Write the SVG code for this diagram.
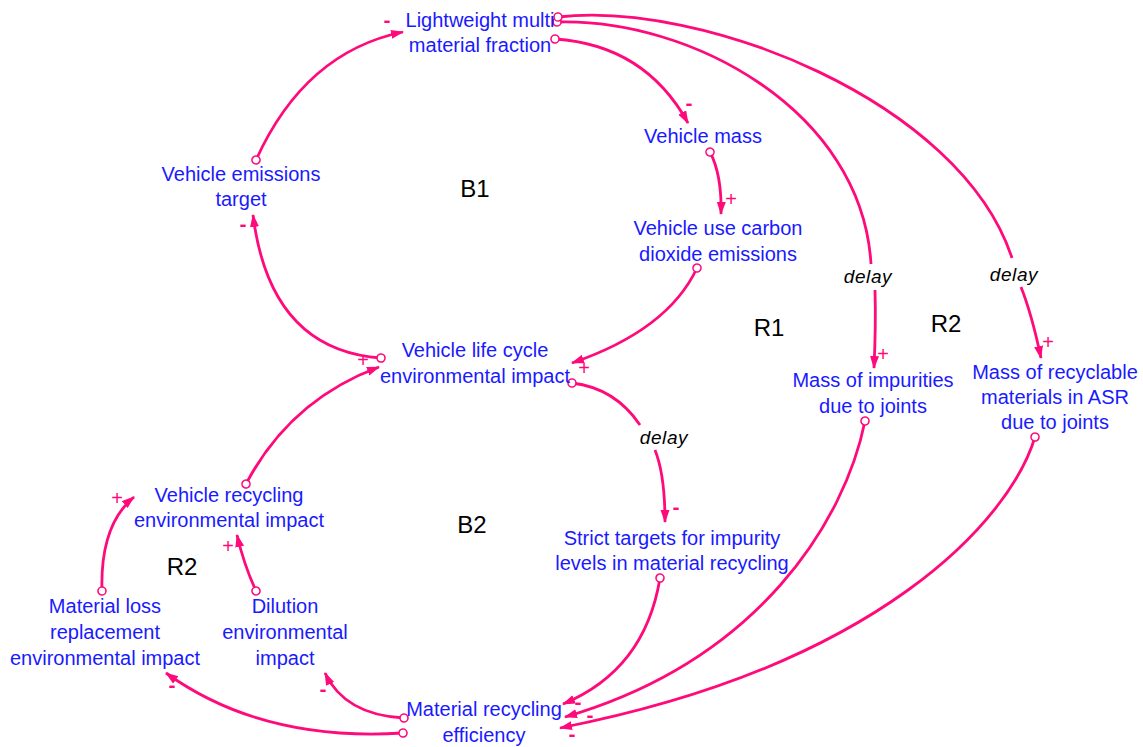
<svg xmlns="http://www.w3.org/2000/svg" width="1143" height="747" viewBox="0 0 1143 747">
  <style>
    .var { font-family: "Liberation Sans", Arial, sans-serif; font-size: 20px; fill: #1a1aff; text-anchor: middle; }
    .loop { font-family: "Liberation Sans", Arial, sans-serif; font-size: 24px; fill: #000; text-anchor: middle; }
    .delay { font-family: "Liberation Sans", Arial, sans-serif; font-size: 19px; font-style: italic; fill: #000; text-anchor: middle; letter-spacing: 0.6px; }
    .sign { font-family: "Liberation Sans", Arial, sans-serif; font-size: 20px; fill: #ff0a7a; text-anchor: middle; }
    .minus { font-weight: bold; font-size: 21px; }
    .link { fill: none; stroke: #ff0a7a; stroke-width: 2.8; }
    .arrow { marker-end: url(#head); }
    .tail { marker-start: url(#dot); }
  </style>
  <defs>
    <marker id="head" markerUnits="userSpaceOnUse" markerWidth="14" markerHeight="10" refX="12" refY="4.5" orient="auto">
      <path d="M0,0 L13,4.5 L0,9 z" fill="#ff0a7a"/>
    </marker>
    <marker id="dot" markerUnits="userSpaceOnUse" markerWidth="12" markerHeight="12" refX="6" refY="6" orient="auto">
      <circle cx="6" cy="6" r="4" fill="#fff" stroke="#ff0a7a" stroke-width="1.6"/>
    </marker>
  </defs>

  <g id="connectors">
    <!-- emissions target -> lightweight fraction -->
    <path class="link tail arrow" d="M256,160 Q305,52 403,32"/>
    <text class="sign minus" x="387" y="27">-</text>
    <!-- lightweight fraction -> vehicle mass -->
    <path class="link tail arrow" d="M555,39 Q645,45 688,123"/>
    <text class="sign minus" x="689" y="110">-</text>
    <!-- vehicle mass -> use-phase CO2 -->
    <path class="link tail arrow" d="M710,152 Q722,175 721,214"/>
    <text class="sign" x="731" y="206">+</text>
    <!-- use-phase CO2 -> life cycle impact -->
    <path class="link tail arrow" d="M697,268 Q668,330 572,363"/>
    <text class="sign" x="584" y="375">+</text>
    <!-- life cycle impact -> emissions target -->
    <path class="link tail arrow" d="M381,358 Q270,350 253,215"/>
    <text class="sign minus" x="243" y="231">-</text>
    <!-- recycling impact -> life cycle impact -->
    <path class="link tail arrow" d="M246,484 Q290,400 379,367"/>
    <text class="sign" x="363" y="367">+</text>
    <!-- life cycle impact -> strict impurity targets (delayed) -->
    <path class="link tail" d="M572,383 Q615,388 640,425"/>
    <path class="link arrow" d="M655,450 Q665,475 665,522"/>
    <text class="delay" x="664" y="444">delay</text>
    <text class="sign minus" x="676" y="514">-</text>
    <!-- lightweight fraction -> impurities mass (delayed) -->
    <path class="link tail" d="M557,22 C690,18 862,110 871,264"/>
    <path class="link arrow" d="M875,290 Q876,325 874,368"/>
    <text class="delay" x="868" y="283">delay</text>
    <text class="sign" x="883" y="361">+</text>
    <!-- lightweight fraction -> recyclables in ASR (delayed) -->
    <path class="link tail" d="M558,17 C700,0 960,100 1012,258"/>
    <path class="link arrow" d="M1021,287 Q1032,315 1041,358"/>
    <text class="delay" x="1014" y="281">delay</text>
    <text class="sign" x="1048" y="349">+</text>
    <!-- strict targets -> recycling efficiency -->
    <path class="link tail arrow" d="M660,578 Q645,670 563,704"/>
    <text class="sign minus" x="578" y="709">-</text>
    <!-- impurities mass -> recycling efficiency -->
    <path class="link tail arrow" d="M865,421 C845,520 760,660 565,717"/>
    <text class="sign minus" x="590" y="722">-</text>
    <!-- recyclables in ASR -> recycling efficiency -->
    <path class="link tail arrow" d="M1035,437 C1010,520 880,665 560,728"/>
    <text class="sign minus" x="572" y="741">-</text>
    <!-- recycling efficiency -> dilution impact -->
    <path class="link tail arrow" d="M404,718 Q345,715 325,673"/>
    <text class="sign minus" x="323" y="696">-</text>
    <!-- recycling efficiency -> material loss replacement -->
    <path class="link tail arrow" d="M403,733 Q262,742 166,673"/>
    <text class="sign minus" x="172" y="692">-</text>
    <!-- dilution impact -> recycling impact -->
    <path class="link tail arrow" d="M256,591 Q244,565 237,535"/>
    <text class="sign" x="228" y="553">+</text>
    <!-- material loss replacement -> recycling impact -->
    <path class="link tail arrow" d="M102,591 Q100,525 134,497"/>
    <text class="sign" x="117" y="505">+</text>
  </g>

  <g id="loops">
    <text class="loop" x="475" y="197">B1</text>
    <text class="loop" x="769" y="336">R1</text>
    <text class="loop" x="946" y="332">R2</text>
    <text class="loop" x="472" y="533">B2</text>
    <text class="loop" x="182" y="575">R2</text>
  </g>

  <g id="lightweight-fraction">
    <text class="var" x="480" y="27">Lightweight multi</text>
    <text class="var" x="480" y="52">material fraction</text>
  </g>
  <g id="vehicle-mass">
    <text class="var" x="703" y="143">Vehicle mass</text>
  </g>
  <g id="use-co2">
    <text class="var" x="718" y="235">Vehicle use carbon</text>
    <text class="var" x="718" y="261">dioxide emissions</text>
  </g>
  <g id="emissions-target">
    <text class="var" x="241" y="181">Vehicle emissions</text>
    <text class="var" x="241" y="206">target</text>
  </g>
  <g id="life-cycle-impact">
    <text class="var" x="475" y="357">Vehicle life cycle</text>
    <text class="var" x="475" y="383">environmental impact</text>
  </g>
  <g id="impurities-mass">
    <text class="var" x="873" y="387">Mass of impurities</text>
    <text class="var" x="873" y="413">due to joints</text>
  </g>
  <g id="recyclables-asr">
    <text class="var" x="1055" y="379">Mass of recyclable</text>
    <text class="var" x="1055" y="404">materials in ASR</text>
    <text class="var" x="1055" y="429">due to joints</text>
  </g>
  <g id="strict-targets">
    <text class="var" x="672" y="545">Strict targets for impurity</text>
    <text class="var" x="672" y="570">levels in material recycling</text>
  </g>
  <g id="recycling-impact">
    <text class="var" x="229" y="502">Vehicle recycling</text>
    <text class="var" x="229" y="527">environmental impact</text>
  </g>
  <g id="material-loss">
    <text class="var" x="105" y="613">Material loss</text>
    <text class="var" x="105" y="639">replacement</text>
    <text class="var" x="105" y="665">environmental impact</text>
  </g>
  <g id="dilution-impact">
    <text class="var" x="285" y="613">Dilution</text>
    <text class="var" x="285" y="639">environmental</text>
    <text class="var" x="285" y="665">impact</text>
  </g>
  <g id="recycling-efficiency">
    <text class="var" x="484" y="716">Material recycling</text>
    <text class="var" x="484" y="742">efficiency</text>
  </g>
</svg>
